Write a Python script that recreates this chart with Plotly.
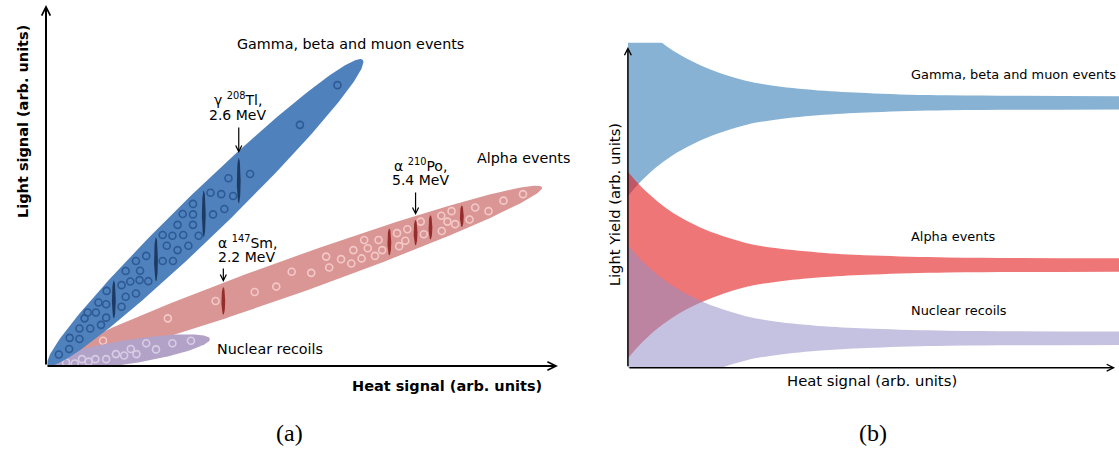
import numpy as np
import plotly.graph_objects as go

W, H = 1119, 450

# ---------------- panel (a) data (arbitrary units, 0-100) ----------------
gamma_band_heat = [0.4, 61.6]
gamma_band_light = [0.3, 84.8]
alpha_band_heat = [1.2, 96.5]
alpha_band_light = [1.1, 49.5]
nr_band_heat = [0.2, 31.9]
nr_band_light = [0.3, 7.5]

gamma_heat = [56.7, 49.4, 39.7, 35.5, 32.0, 34.1, 36.4, 34.7, 32.5, 28.6, 26.6, 28.6,
              28.6, 25.6, 22.7, 24.6, 26.7, 29.7, 23.5, 25.6, 27.7, 19.5, 17.5, 22.7,
              24.7, 15.5, 18.3, 19.9, 18.2, 16.4, 14.7, 11.8, 17.5, 15.5, 10.2, 11.7,
              14.7, 8.1, 9.7, 11.7, 7.5, 6.5, 8.6, 10.7, 4.6, 6.5, 4.5, 2.5]
gamma_light = [77.8, 66.8, 53.2, 52.0, 48.0, 47.6, 47.1, 43.5, 42.0, 44.9, 42.1, 42.0,
               39.1, 39.1, 36.3, 36.1, 36.3, 36.1, 33.3, 32.1, 33.3, 30.5, 29.1, 29.1,
               29.1, 26.3, 26.4, 23.5, 23.8, 23.4, 22.4, 20.8, 20.1, 19.2, 17.6, 17.1,
               16.4, 14.8, 14.8, 13.4, 13.2, 10.4, 10.4, 11.4, 7.8, 7.5, 4.7, 3.2]

alpha_heat = [92.8, 89.0, 83.5, 86.1, 78.9, 76.9, 78.1, 79.6, 82.4, 77.0, 73.5, 72.9,
              70.3, 68.3, 69.9, 68.7, 64.0, 65.4, 61.9, 64.7, 62.6, 59.8, 61.4, 59.4,
              57.4, 55.1, 54.5, 51.6, 47.8, 44.8, 40.6, 33.0, 23.7, 11.1]
alpha_light = [47.6, 45.8, 43.9, 42.9, 42.9, 41.6, 40.0, 39.3, 40.6, 37.4, 36.5, 40.0,
               37.9, 36.8, 34.7, 33.2, 30.5, 32.1, 34.9, 34.9, 32.6, 32.1, 29.8, 28.4,
               29.6, 27.3, 30.3, 25.8, 26.1, 22.0, 20.5, 18.0, 13.2, 7.0]

nr_heat = [28.2, 24.6, 21.4, 19.5, 17.6, 16.5, 15.2, 13.6, 11.7, 9.6, 8.3, 7.0, 5.6, 3.9]
nr_light = [7.0, 6.3, 4.6, 6.3, 3.3, 4.7, 2.9, 3.3, 1.9, 1.9, 1.2, 1.9, 0.7, 1.0]

gamma_peaks = [13.2, 21.4, 30.7, 37.5]
alpha_peaks = [34.5, 66.8, 71.9, 74.8, 80.9]

tl_label = ["γ <sup>208</sup>Tl,", "2.6 MeV"]
sm_label = ["α <sup>147</sup>Sm,", "2.2 MeV"]
po_label = ["α <sup>210</sup>Po,", "5.4 MeV"]

# ---------------- panel (b) data ----------------
band_heat = [0, 2, 4, 7, 10, 14, 18, 24, 30, 40, 50, 65, 80, 100]
band_halfwidth = [28.7, 25.2, 22.2, 18.4, 15.3, 12.1, 9.6, 6.8, 5.2, 3.7, 2.9, 2.3, 2.15, 2.06]
gamma_centre = 81.5
alpha_centre = 31.6
nr_centre = 9.05

# ---------------- layout geometry ----------------
xdomA = [46 / W, 560 / W]
ydomA = [84 / H, 445 / H]
xdomB = [627.9 / W, 1.0]
ydomB = [82.3 / H, 407.3 / H]
sxA = W * (xdomA[1] - xdomA[0]) / 100.0
syA = H * (ydomA[1] - ydomA[0]) / 100.0

FONT = "DejaVu Sans"


def ellipse(hx, ly, half_w, n=240):
    p0 = np.array([hx[0] * sxA, ly[0] * syA])
    p1 = np.array([hx[1] * sxA, ly[1] * syA])
    c = (p0 + p1) / 2
    d = p1 - p0
    a = np.linalg.norm(d) / 2
    e = d / np.linalg.norm(d)
    nv = np.array([-e[1], e[0]])
    t = np.linspace(0, 2 * np.pi, n)
    P = c[:, None] + a * np.cos(t) * e[:, None] + half_w * np.sin(t) * nv[:, None]
    return P[0] / sxA, P[1] / syA, (c, e, a, half_w)


def chord(geom, heat):
    c, e, a, b = geom
    dx = heat * sxA - c[0]
    ex, ey = e
    A = ey ** 2 / a ** 2 + ex ** 2 / b ** 2
    B = 2 * dx * ex * ey / a ** 2 - 2 * dx * ey * ex / b ** 2
    C = dx ** 2 * ex ** 2 / a ** 2 + dx ** 2 * ey ** 2 / b ** 2 - 1
    mid = -B / (2 * A)
    half = np.sqrt(max(B * B - 4 * A * C, 0)) / (2 * A)
    return c[1] + mid, half   # in px (upward)


fig = go.Figure()

ell_specs = [
    (alpha_band_heat, alpha_band_light, 18.0, "#da9694", alpha_heat, alpha_light, "#f3c9c8"),
    (nr_band_heat, nr_band_light, 12.0, "#b3a2c7", nr_heat, nr_light, "#d8cde6"),
    (gamma_band_heat, gamma_band_light, 22.0, "#4f81bd", gamma_heat, gamma_light, "#2d5a95"),
]
geoms = {}
for hx, ly, hw, col, ch, cl, ccol in ell_specs:
    ex_, ey_, g = ellipse(hx, ly, hw)
    geoms[col] = g
    fig.add_trace(go.Scatter(x=ex_, y=ey_, fill="toself", fillcolor=col, mode="lines",
                             line=dict(width=0, color=col), xaxis="x", yaxis="y",
                             hoverinfo="skip"))
    fig.add_trace(go.Scatter(x=ch, y=cl, mode="markers", xaxis="x", yaxis="y",
                             marker=dict(symbol="circle-open", size=7, color=ccol,
                                         line=dict(width=1.6)),
                             hoverinfo="skip"))

peak_tops = {}
for peaks, gcol, pcol in [(gamma_peaks, "#4f81bd", "#1d3a63"), (alpha_peaks, "#da9694", "#962d2d")]:
    g = geoms[gcol]
    for pk in peaks:
        yc, half = chord(g, pk)
        hl = 0.76 * half
        t = np.linspace(0, 2 * np.pi, 60)
        xs = (pk * sxA + 1.9 * np.cos(t)) / sxA
        ys = (yc + hl * np.sin(t)) / syA
        fig.add_trace(go.Scatter(x=xs, y=ys, fill="toself", fillcolor=pcol, mode="lines",
                                 line=dict(width=0, color=pcol), xaxis="x", yaxis="y",
                                 hoverinfo="skip"))
        peak_tops[pk] = (yc + hl) / syA

# ---------------- panel (b) bands ----------------
hw = np.array(band_halfwidth)
for centre, col in [(gamma_centre, "rgba(55,126,184,0.6)"),
                    (alpha_centre, "rgba(228,26,28,0.6)"),
                    (nr_centre, "rgba(148,144,199,0.55)")]:
    fig.add_trace(go.Scatter(x=band_heat, y=centre - hw, mode="lines",
                             line=dict(width=0, shape="spline"), xaxis="x2", yaxis="y2",
                             hoverinfo="skip"))
    fig.add_trace(go.Scatter(x=band_heat, y=centre + hw, mode="lines", fill="tonexty",
                             fillcolor=col, line=dict(width=0, shape="spline"),
                             xaxis="x2", yaxis="y2", hoverinfo="skip"))

ann = []
# axes arrows
ann.append(dict(x=0, y=100, ax=0, ay=0, xref="x", yref="y", axref="x", ayref="y", text="",
                showarrow=True, arrowhead=5, arrowwidth=2, arrowsize=0.85, arrowcolor="black"))
ann.append(dict(x=99.6, y=0, ax=0, ay=0, xref="x", yref="y", axref="x", ayref="y", text="",
                showarrow=True, arrowhead=5, arrowwidth=2, arrowsize=0.85, arrowcolor="black"))
ann.append(dict(x=0, y=98.7, ax=0, ay=0, xref="x2", yref="y2", axref="x2", ayref="y2", text="",
                showarrow=True, arrowhead=5, arrowwidth=1.5, arrowsize=0.9, arrowcolor="black"))
ann.append(dict(x=99.2, y=0, ax=0, ay=0, xref="x2", yref="y2", axref="x2", ayref="y2", text="",
                showarrow=True, arrowhead=5, arrowwidth=1.5, arrowsize=0.9, arrowcolor="black"))

# peak arrows and labels
for pk, lab, length, xs, ys1, ys2, xanchor in [
        (gamma_peaks[3], tl_label, 27, -1, 54, 38, "center"),
        (alpha_peaks[0], sm_label, 15, -7, 40, 25, "left"),
        (alpha_peaks[2], po_label, 24, 5, 50, 35, "center")]:
    tip = peak_tops[pk] + 5 / syA
    ann.append(dict(x=pk, y=tip, ax=0, ay=-length, xref="x", yref="y", text="",
                    showarrow=True, arrowhead=5, arrowwidth=1.2, arrowsize=1.0,
                    arrowcolor="black"))
    for txt, ysh in [(lab[0], ys1), (lab[1], ys2)]:
        ann.append(dict(x=pk, y=tip, xref="x", yref="y", text=txt, showarrow=False,
                        xanchor=xanchor, yanchor="middle", xshift=xs, yshift=ysh,
                        font=dict(family=FONT, size=14, color="black")))

# category labels panel (a)
for txt, x, y in [("Gamma, beta and muon events", 37.2, 89.2),
                  ("Alpha events", 83.9, 57.6),
                  ("Nuclear recoils", 33.3, 4.7)]:
    ann.append(dict(x=x, y=y, xref="x", yref="y", text=txt, showarrow=False,
                    xanchor="left", yanchor="middle", xshift=-2,
                    font=dict(family=FONT, size=14.3, color="black")))
# category labels panel (b)
for txt, y in [("Gamma, beta and muon events", 90.3),
               ("Alpha events", 40.3),
               ("Nuclear recoils", 17.5)]:
    ann.append(dict(x=57.8, y=y, xref="x2", yref="y2", text=txt, showarrow=False,
                    xanchor="left", yanchor="middle", xshift=-3,
                    font=dict(family=FONT, size=12.9, color="black")))

# axis titles
ann.append(dict(x=544 / W, y=(H - 386) / H, xref="paper", yref="paper",
                text="<b>Heat signal (arb. units)</b>", showarrow=False,
                xanchor="right", yanchor="middle",
                font=dict(family=FONT, size=14.5, color="black")))
ann.append(dict(x=23 / W, y=(H - 122) / H, xref="paper", yref="paper",
                text="<b>Light signal (arb. units)</b>", showarrow=False, textangle=-90,
                xanchor="center", yanchor="middle",
                font=dict(family=FONT, size=14.5, color="black")))
ann.append(dict(x=871.8 / W, y=(H - 380) / H, xref="paper", yref="paper",
                text="Heat signal (arb. units)", showarrow=False,
                xanchor="center", yanchor="middle",
                font=dict(family=FONT, size=14.8, color="black")))
ann.append(dict(x=614.3 / W, y=(H - 205) / H, xref="paper", yref="paper",
                text="Light Yield (arb. units)", showarrow=False, textangle=-90,
                xanchor="center", yanchor="middle",
                font=dict(family=FONT, size=14.8, color="black")))
# captions
for txt, x in [("(a)", 289.5), ("(b)", 873)]:
    ann.append(dict(x=x / W, y=(H - 433) / H, xref="paper", yref="paper", text=txt,
                    showarrow=False, xanchor="center", yanchor="middle",
                    font=dict(family="Liberation Serif", size=24, color="black")))

axis_common = dict(visible=False, range=[0, 100], fixedrange=True)
fig.update_layout(
    width=W, height=H, margin=dict(l=0, r=0, t=0, b=0),
    paper_bgcolor="white", plot_bgcolor="white", showlegend=False,
    xaxis=dict(domain=xdomA, anchor="y", **axis_common),
    yaxis=dict(domain=ydomA, anchor="x", **axis_common),
    xaxis2=dict(domain=xdomB, anchor="y2", **axis_common),
    yaxis2=dict(domain=ydomB, anchor="x2", **axis_common),
    annotations=ann,
)

fig.write_html("out.html")
